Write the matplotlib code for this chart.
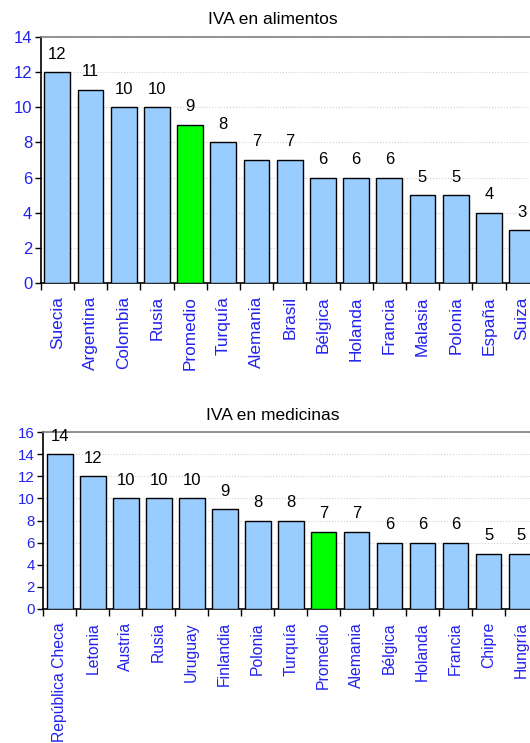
import matplotlib.pyplot as plt
import numpy as np

# IVA sobre alimentos
paises_alim = ["Suecia", "Argentina", "Colombia", "Rusia", "Promedio", "Turquía",
               "Alemania", "Brasil", "Bélgica", "Holanda", "Francia", "Malasia",
               "Polonia", "España", "Suiza"]
iva_alim = [12, 11, 10, 10, 9, 8, 7, 7, 6, 6, 6, 5, 5, 4, 3]

# IVA sobre medicinas
paises_med = ["República Checa", "Letonia", "Austria", "Rusia", "Uruguay", "Finlandia",
              "Polonia", "Turquía", "Promedio", "Alemania", "Bélgica", "Holanda",
              "Francia", "Chipre", "Hungría"]
iva_med = [14, 12, 10, 10, 10, 9, 8, 8, 7, 7, 6, 6, 6, 5, 5]

plt.rcParams['font.family'] = ['Liberation Sans', 'DejaVu Sans']

W, H = 530, 743
fig = plt.figure(figsize=(W / 100, H / 100), dpi=100)

azul = '#99CCFF'
verde = '#00FF00'
texto_azul = '#2222EE'


def panel(box, paises, valores, ymax, titulo, fs_x, fs_y):
    left, top, right, bottom = box
    ax = fig.add_axes([left / W, 1 - bottom / H, (right - left) / W, (bottom - top) / H])
    x = np.arange(len(paises)) + 0.5
    colores = [verde if p == "Promedio" else azul for p in paises]
    ax.bar(x, valores, width=0.78, color=colores, edgecolor='black', linewidth=1, zorder=3)
    for xi, v in zip(x, valores):
        ax.annotate(str(v), (xi, v), xytext=(0, 13), textcoords='offset points',
                    ha='center', va='center', fontsize=12, color='black')
    ax.set_xlim(0, len(paises))
    ax.set_ylim(0, ymax)
    ax.set_yticks(range(0, ymax + 1, 2))
    ax.set_xticks(range(len(paises) + 1))
    ax.set_xticklabels([])
    ax.set_xticks(x, minor=True)
    ax.set_xticklabels(paises, minor=True, rotation=90, fontsize=fs_x, color=texto_azul)
    ax.tick_params(axis='x', which='major', length=5, width=1, direction='out')
    ax.tick_params(axis='x', which='minor', length=0, pad=9.5)
    ax.tick_params(axis='y', length=4, width=1, labelsize=fs_y, labelcolor=texto_azul, pad=2)
    ax.grid(axis='y', color='#D0D0D0', linestyle=':', linewidth=0.8, zorder=0)
    ax.spines['right'].set_visible(False)
    ax.spines['top'].set_color('#808080')
    ax.spines['top'].set_linewidth(1.2)
    ax.spines['left'].set_linewidth(1.2)
    ax.spines['bottom'].set_linewidth(1.2)
    fig.text(273 / W, 1 - (top - 17) / H, titulo, ha='center', va='center', fontsize=12.5)
    return ax


panel((40.7, 37, 538.7, 283), paises_alim, iva_alim, 14, "IVA en alimentos", 12.4, 12)
panel((43.3, 432.3, 538, 608.7), paises_med, iva_med, 16, "IVA en medicinas", 11.3, 10.8)

fig.savefig("out.png", dpi=100)
